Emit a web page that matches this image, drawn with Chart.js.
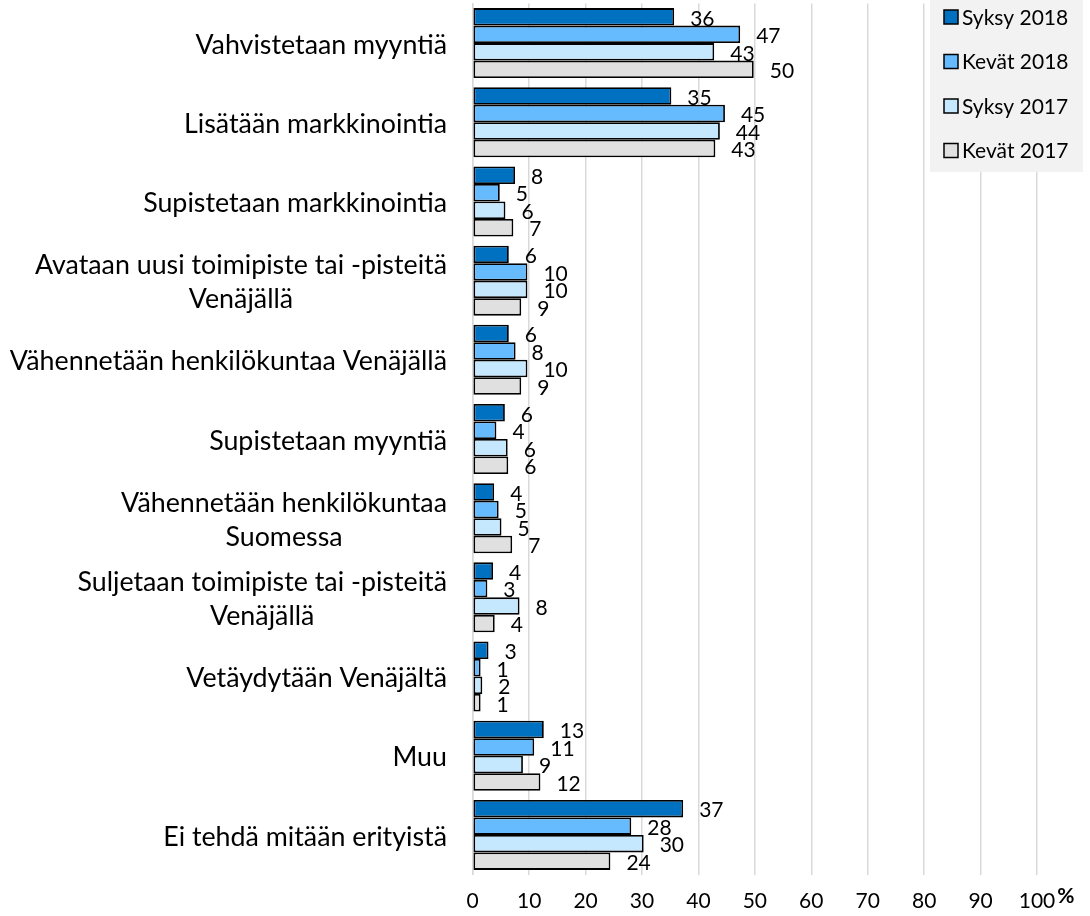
<!DOCTYPE html>
<html>
<head>
<meta charset="utf-8">
<script src="https://cdn.jsdelivr.net/npm/chart.js@4.4.1/dist/chart.umd.min.js"></script>
<style>
html, body { margin: 0; padding: 0; background: #fff; }
</style>
</head>
<body>
<canvas id="kaavio" width="1090" height="916"></canvas>
<script>
// kategoriat (monirivinen nimi = taulukko)
var toimenpiteet = [
	["Vahvistetaan myyntiä"],
	["Lisätään markkinointia"],
	["Supistetaan markkinointia"],
	["Avataan uusi toimipiste tai -pisteitä", "Venäjällä"],
	["Vähennetään henkilökuntaa Venäjällä"],
	["Supistetaan myyntiä"],
	["Vähennetään henkilökuntaa", "Suomessa"],
	["Suljetaan toimipiste tai -pisteitä", "Venäjällä"],
	["Vetäydytään Venäjältä"],
	["Muu"],
	["Ei tehdä mitään erityistä"]
];
var sarjat = ["Syksy 2018", "Kevät 2018", "Syksy 2017", "Kevät 2017"];
var syksy2018 = [35.7, 35.2, 7.5, 6.4, 6.4, 5.7, 3.8, 3.6, 2.8, 12.6, 37.3];
var kevat2018 = [47.4, 44.7, 4.8, 9.7, 7.6, 4.2, 4.6, 2.6, 1.4, 10.9, 28.1];
var syksy2017 = [42.8, 43.8, 5.8, 9.7, 9.7, 6.2, 5.1, 8.3, 1.7, 8.9, 30.3];
var kevat2017 = [49.8, 43.0, 7.2, 8.6, 8.6, 6.3, 7.0, 3.9, 1.4, 12.0, 24.4];
var xTicks = [0, 10, 20, 30, 40, 50, 60, 70, 80, 90, 100];

var varit = ["#0070c0", "#66bbff", "#c5e8ff", "#e0e0e0"];
var fontti = "Lato";

var omat_piirrot = {
	id: 'omat_piirrot',
	afterDatasetsDraw: function(chart){
		var ctx = chart.ctx;
		ctx.save();
		// arvot palkkien perään
		ctx.font = "21px " + fontti;
		ctx.fillStyle = "#000";
		ctx.textAlign = "left";
		ctx.textBaseline = "middle";
		chart.data.datasets.forEach(function(ds, i){
			chart.getDatasetMeta(i).data.forEach(function(bar, j){
				ctx.fillText(Math.round(ds.data[j]), bar.x + 16, bar.y + 2);
			});
		});
		// kategorioiden nimet
		var y = chart.scales.y;
		ctx.font = "26.8px " + fontti;
		ctx.textAlign = "center";
		toimenpiteet.forEach(function(rivit, i){
			var leveys = 0;
			rivit.forEach(function(r){ leveys = Math.max(leveys, ctx.measureText(r).width); });
			var keski = y.getPixelForValue(i) + 2;
			var vali = 34;
			var alku = keski - (rivit.length - 1) * vali / 2;
			rivit.forEach(function(r, k){
				ctx.fillText(r, 447 - leveys / 2, alku + k * vali);
			});
		});
		ctx.restore();
	},
	afterDraw: function(chart){
		var ctx = chart.ctx;
		ctx.save();
		// prosenttimerkki
		var x = chart.scales.x;
		ctx.font = "21px " + fontti;
		var w100 = ctx.measureText("100").width;
		ctx.font = "bold 21px " + fontti;
		ctx.fillStyle = "#000";
		ctx.textAlign = "left";
		ctx.textBaseline = "middle";
		ctx.fillText("%", x.getPixelForValue(100) + w100 / 2 + 2, 896);
		// selite
		ctx.fillStyle = "#f2f2f2";
		ctx.fillRect(930, 0, 153, 172);
		ctx.font = "21px " + fontti;
		sarjat.forEach(function(nimi, i){
			var yy = 17 + i * 44.5;
			ctx.fillStyle = varit[i];
			ctx.fillRect(944, yy - 7, 14, 14);
			ctx.strokeStyle = "#000";
			ctx.lineWidth = 1.5;
			ctx.strokeRect(944, yy - 7, 14, 14);
			ctx.fillStyle = "#000";
			ctx.fillText(nimi, 962, yy + 1);
		});
		ctx.restore();
	}
};

var arvot = [syksy2018, kevat2018, syksy2017, kevat2017];

new Chart(document.getElementById('kaavio'), {
	type: 'bar',
	data: {
		labels: toimenpiteet,
		datasets: arvot.map(function(d, i){
			return {
				label: sarjat[i],
				data: d,
				backgroundColor: varit[i],
				borderColor: "#000",
				borderWidth: 1.8,
				borderSkipped: false,
				categoryPercentage: 0.884,
				barPercentage: 1
			};
		})
	},
	options: {
		indexAxis: 'y',
		responsive: false,
		animation: false,
		layout: { padding: { top: 3.5, right: 53, left: 0, bottom: 0 } },
		plugins: {
			legend: { display: false },
			tooltip: { enabled: false }
		},
		scales: {
			x: {
				min: 0,
				max: 100,
				afterBuildTicks: function(s){ s.ticks = xTicks.map(function(v){ return { value: v }; }); },
				afterFit: function(s){ s.height = 41.5; },
				ticks: {
					color: "#000",
					font: { family: fontti, size: 21 },
					padding: 14
				},
				grid: { color: "#d9d9d9", lineWidth: 1.5, drawTicks: false },
				border: { display: false }
			},
			y: {
				afterFit: function(s){ s.width = 472.7; },
				ticks: { display: false },
				grid: { display: false },
				border: { display: true, color: "#d9d9d9", width: 1.5 }
			}
		}
	},
	plugins: [omat_piirrot]
});
</script>
</body>
</html>
